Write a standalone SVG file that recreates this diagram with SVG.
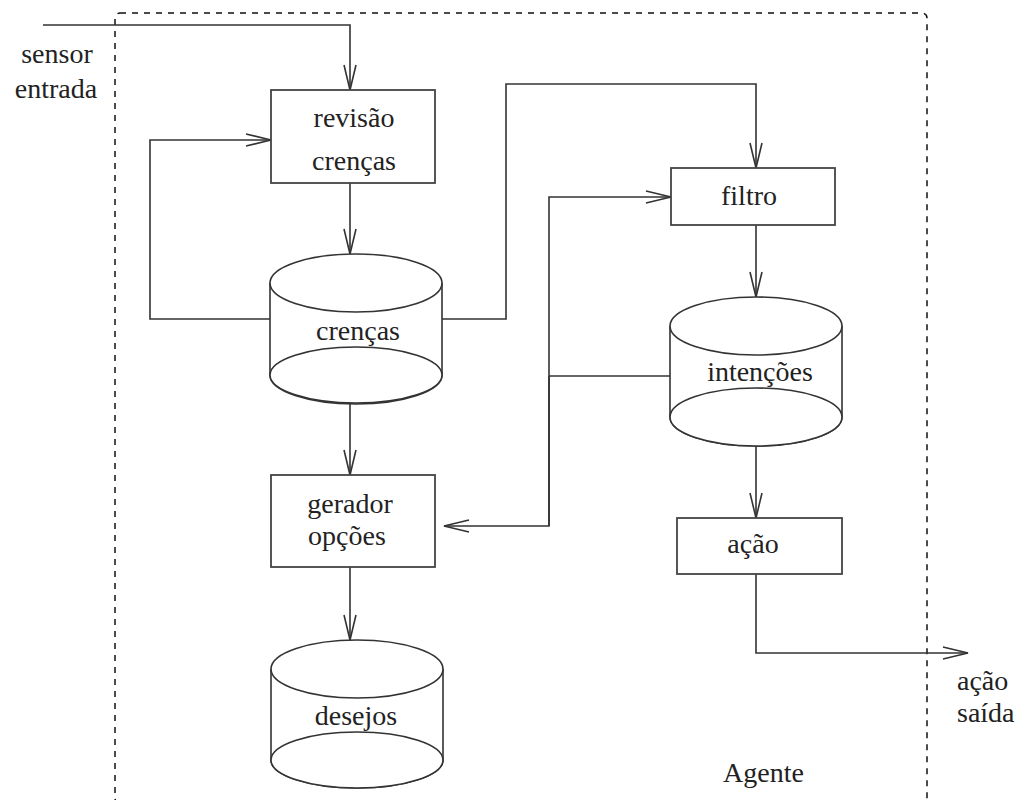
<svg xmlns="http://www.w3.org/2000/svg" width="1018" height="800" viewBox="0 0 1018 800">
<style>
.box{fill:#fff;stroke:#444;stroke-width:1.8}
.cyl{fill:#fff;stroke:#333;stroke-width:1.6}
.conn{fill:none;stroke:#333;stroke-width:1.6}
.t{font-family:"Liberation Serif","Times New Roman",serif;font-size:28px;fill:#222;text-anchor:middle}
.ts{font-family:"Liberation Serif","Times New Roman",serif;font-size:28px;fill:#222;text-anchor:start}
</style>
<defs>
<marker id="arr" markerUnits="userSpaceOnUse" markerWidth="30" markerHeight="16" viewBox="-27 -8 30 16" refX="0" refY="0" orient="auto">
<path d="M-25,-6 L0,0 L-25,6" fill="none" stroke="#333" stroke-width="1.6"/>
</marker>
</defs>
<rect width="1018" height="800" fill="#fff"/>
<g id="agente">
<rect x="115" y="13" width="812" height="790" rx="5" fill="none" stroke="#111" stroke-width="1.5" stroke-dasharray="6,6"/>
<text class="ts" x="723" y="782">Agente</text>
</g>
<g id="connectors">
<polyline class="conn" points="43,25 350,25 350,90" marker-end="url(#arr)"/>
<polyline class="conn" points="270,319 150,319 150,140 271,140" marker-end="url(#arr)"/>
<line class="conn" x1="350" y1="183" x2="350" y2="254" marker-end="url(#arr)"/>
<polyline class="conn" points="442,319 506,319 506,84 756,84 756,168" marker-end="url(#arr)"/>
<line class="conn" x1="350" y1="403" x2="350" y2="475" marker-end="url(#arr)"/>
<line class="conn" x1="350" y1="567" x2="350" y2="640" marker-end="url(#arr)"/>
<line class="conn" x1="670" y1="376" x2="549" y2="376"/>
<polyline class="conn" points="549,526 549,197 671,197" marker-end="url(#arr)"/>
<polyline class="conn" points="549,376 549,526 444,526" marker-end="url(#arr)"/>
<line class="conn" x1="756" y1="225" x2="756" y2="297" marker-end="url(#arr)"/>
<line class="conn" x1="756" y1="446" x2="756" y2="518" marker-end="url(#arr)"/>
<polyline class="conn" points="756,574 756,653 968,653" marker-end="url(#arr)"/>
</g>
<g id="sensor">
<text class="t" x="57" y="63">sensor</text>
<text class="t" x="56" y="98">entrada</text>
</g>
<g id="revisao">
<rect class="box" x="271" y="90" width="164" height="93"/>
<text class="t" x="354" y="127">revisão</text>
<text class="t" x="354" y="170">crenças</text>
</g>
<g id="crencas">
<path class="cyl" d="M270,283 L270,375 A86,29 0 0 0 442,375 L442,283"/>
<ellipse class="cyl" cx="356" cy="375" rx="86" ry="28"/>
<ellipse class="cyl" cx="356" cy="283" rx="86" ry="29"/>
<text class="t" x="358" y="340">crenças</text>
</g>
<g id="filtro">
<rect class="box" x="671" y="168" width="164" height="57"/>
<text class="t" x="749" y="205">filtro</text>
</g>
<g id="intencoes">
<path class="cyl" d="M670,326 L670,417 A86,29 0 0 0 842,417 L842,326"/>
<ellipse class="cyl" cx="756" cy="417" rx="86" ry="29"/>
<ellipse class="cyl" cx="756" cy="326" rx="86" ry="29"/>
<text class="t" x="760" y="381">intenções</text>
</g>
<g id="gerador">
<rect class="box" x="271" y="475" width="164" height="92"/>
<text class="t" x="350" y="513">gerador</text>
<text class="t" x="347" y="545">opções</text>
</g>
<g id="desejos">
<path class="cyl" d="M271,669 L271,760 A86,28 0 0 0 443,760 L443,669"/>
<ellipse class="cyl" cx="357" cy="760" rx="86" ry="28"/>
<ellipse class="cyl" cx="357" cy="669" rx="86" ry="29"/>
<text class="t" x="356" y="725">desejos</text>
</g>
<g id="acao">
<rect class="box" x="677" y="518" width="165" height="56"/>
<text class="t" x="753" y="553">ação</text>
</g>
<g id="saida">
<text class="ts" x="957" y="690">ação</text>
<text class="ts" x="957" y="722">saída</text>
</g>
</svg>
